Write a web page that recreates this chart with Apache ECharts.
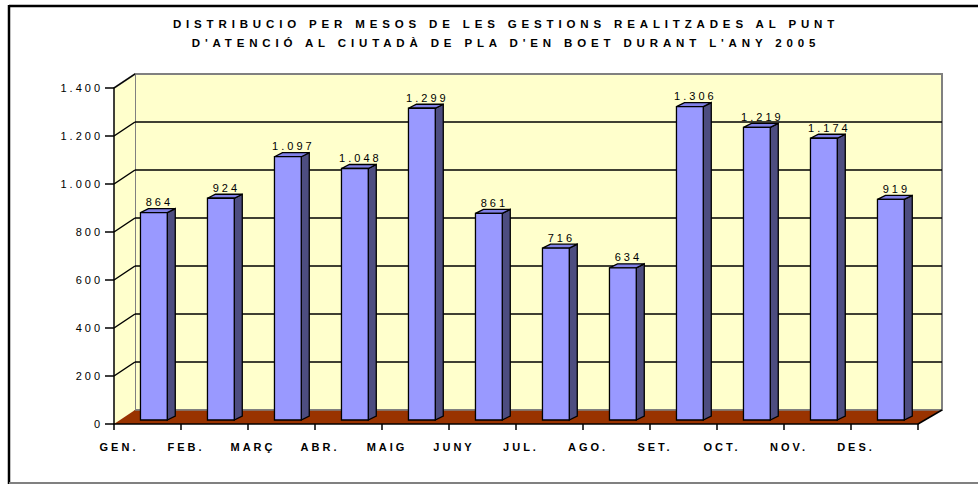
<!DOCTYPE html>
<html>
<head>
<meta charset="utf-8">
<script src="https://cdn.jsdelivr.net/npm/echarts@6/dist/echarts.min.js"></script>
<style>
html, body { margin: 0; padding: 0; background: #fff; }
#chart { width: 978px; height: 484px; }
/* el gràfic original té el text molt espaiat */
#chart text { letter-spacing: 3px; }
#chart text[style*="11.5px"] { letter-spacing: 4.85px; }
</style>
</head>
<body>
<div id="chart"></div>
<script>
var months = ['GEN.', 'FEB.', 'MARÇ', 'ABR.', 'MAIG', 'JUNY', 'JUL.', 'AGO.', 'SET.', 'OCT.', 'NOV.', 'DES.'];
var gestions = [864, 924, 1097, 1048, 1299, 861, 716, 634, 1306, 1219, 1174, 919];
var yTicks = [0, 200, 400, 600, 800, 1000, 1200, 1400];

// profunditat de la caixa 3D (esquerra / dreta)
var DXL = 21, DXR = 24, DY = -14;
var FONT = 'Arial, Liberation Sans, sans-serif';

function fmt(v) {
    return String(v).replace(/\B(?=(\d{3})+(?!\d))/g, '.');
}

var myChart = echarts.init(document.getElementById('chart'), null, { renderer: 'svg' });

// paret lateral i terra
function renderWalls(params, api) {
    var band = api.size([1, 0])[0];
    var bl = api.coord([0, 0]);
    var tl = api.coord([0, 1400]);
    var br = api.coord([months.length - 1, 0]);
    var L = bl[0] - band / 2, R = br[0] + band / 2, B = bl[1], T = tl[1];
    return {
        type: 'group',
        children: [
            { type: 'polygon', shape: { points: [[L, B], [L, T], [L + DXL, T + DY], [L + DXL, B + DY]] },
              style: { fill: '#FFFFCC', stroke: null } },
            { type: 'line', shape: { x1: L, y1: T, x2: L + DXL, y2: T + DY },
              style: { stroke: '#808080', lineWidth: 2 } },
            { type: 'polygon', shape: { points: [[L, B], [R, B], [R + DXR, B + DY], [L + DXL, B + DY]] },
              style: { fill: '#993300', stroke: null } },
            { type: 'line', shape: { x1: L + DXL, y1: B + DY, x2: R + DXR, y2: B + DY },
              style: { stroke: '#808080', lineWidth: 1.5 } },
            { type: 'line', shape: { x1: R, y1: B, x2: R + DXR, y2: B + DY },
              style: { stroke: '#000', lineWidth: 1.5 } }
        ]
    };
}

// línies diagonals de la paret lateral
function renderDiag(params, api) {
    var band = api.size([1, 0])[0];
    var p = api.coord([0, api.value(0)]);
    var L = p[0] - band / 2;
    return {
        type: 'line',
        shape: { x1: L, y1: p[1], x2: L + DXL, y2: p[1] + DY },
        style: { stroke: '#000', lineWidth: 1.5 }
    };
}

function renderBar(params, api) {
    var i = api.value(0), v = api.value(1);
    var top = api.coord([i, v]);
    var base = api.coord([i, 0]);
    var band = api.size([1, 0])[0];
    var x0 = top[0] - band * 0.105;
    var x1 = top[0] + band * 0.295;
    var yT = top[1] - 4, yB = base[1] - 4;
    var sx = 8, sy = -4;
    var line = { stroke: '#000', lineWidth: 1.3, lineJoin: 'miter' };
    return {
        type: 'group',
        children: [
            { type: 'polygon', shape: { points: [[x1, yT], [x1 + sx, yT + sy], [x1 + sx, yB + sy], [x1, yB]] },
              style: Object.assign({ fill: '#4D4D80' }, line) },
            { type: 'polygon', shape: { points: [[x0, yT], [x0 + sx, yT + sy], [x1 + sx, yT + sy], [x1, yT]] },
              style: Object.assign({ fill: '#8080E6' }, line) },
            { type: 'rect', shape: { x: x0, y: yT, width: x1 - x0, height: yB - yT },
              style: Object.assign({ fill: '#9999FF' }, line) },
            { type: 'text', style: { text: fmt(v), x: (x0 + x1 + sx) / 2 + 1.5, y: yT - 5,
              align: 'center', verticalAlign: 'bottom', fill: '#000',
              fontSize: 11, fontFamily: FONT } }
        ]
    };
}

var option = {
    animation: false,
    title: {
        text: 'DISTRIBUCIO PER MESOS DE LES GESTIONS REALITZADES AL PUNT\nD\'ATENCIÓ AL CIUTADÀ DE PLA D\'EN BOET DURANT L\'ANY 2005',
        left: 501, top: 9, textAlign: 'center',
        textStyle: { fontSize: 11.5, fontWeight: 'bold', color: '#000', lineHeight: 19, fontFamily: FONT }
    },
    grid: [
        { left: 114, top: 88, width: 804, height: 336 },
        { left: 135, top: 74, width: 807, height: 336, show: true,
          backgroundColor: '#FFFFCC', borderColor: '#808080', borderWidth: 2 }
    ],
    xAxis: [
        { gridIndex: 0, type: 'category', data: months,
          axisLine: { lineStyle: { color: '#000', width: 1.5 } },
          axisTick: { show: true, length: 6, lineStyle: { color: '#000', width: 1.5 } },
          axisLabel: { color: '#000', fontSize: 11, fontWeight: 'bold', margin: 17, interval: 0,
                       padding: [0, 57, 0, 0], fontFamily: FONT },
          z: 5 },
        { gridIndex: 1, type: 'category', data: months, show: false }
    ],
    yAxis: [
        { gridIndex: 0, type: 'value', min: 0, max: 1400, interval: 200,
          axisLine: { show: true, lineStyle: { color: '#000', width: 1.5 } },
          axisTick: { show: true, length: 9, lineStyle: { color: '#000', width: 1.5 } },
          axisLabel: { formatter: fmt, color: '#000', fontSize: 11, margin: 11, fontFamily: FONT },
          splitLine: { show: false },
          z: 5 },
        { gridIndex: 1, type: 'value', min: 0, max: 1400, interval: 200,
          axisLine: { show: false }, axisTick: { show: false }, axisLabel: { show: false },
          splitLine: { show: true, showMinLine: false, showMaxLine: false,
                       lineStyle: { color: '#000', width: 1.5 } } }
    ],
    graphic: [
        { type: 'line', shape: { x1: 9, y1: 6, x2: 978, y2: 6 }, style: { stroke: '#000', lineWidth: 2.5 } },
        { type: 'line', shape: { x1: 9, y1: 5, x2: 9, y2: 484 }, style: { stroke: '#000', lineWidth: 2.5 } },
        { type: 'line', shape: { x1: 9, y1: 483, x2: 978, y2: 483 }, style: { stroke: '#808080', lineWidth: 2 } }
    ],
    series: [
        { name: 'parets', type: 'custom', xAxisIndex: 0, yAxisIndex: 0, z: 1,
          data: [[0]], renderItem: renderWalls, silent: true },
        { name: 'reixa', type: 'custom', xAxisIndex: 0, yAxisIndex: 0, z: 2,
          data: yTicks.slice(1).map(function (t) { return [t]; }), renderItem: renderDiag, silent: true },
        { name: 'Gestions', type: 'custom', xAxisIndex: 0, yAxisIndex: 0, z: 3,
          data: gestions.map(function (v, i) { return [i, v]; }),
          encode: { x: 0, y: 1 }, renderItem: renderBar }
    ]
};
myChart.setOption(option);
</script>
</body>
</html>
